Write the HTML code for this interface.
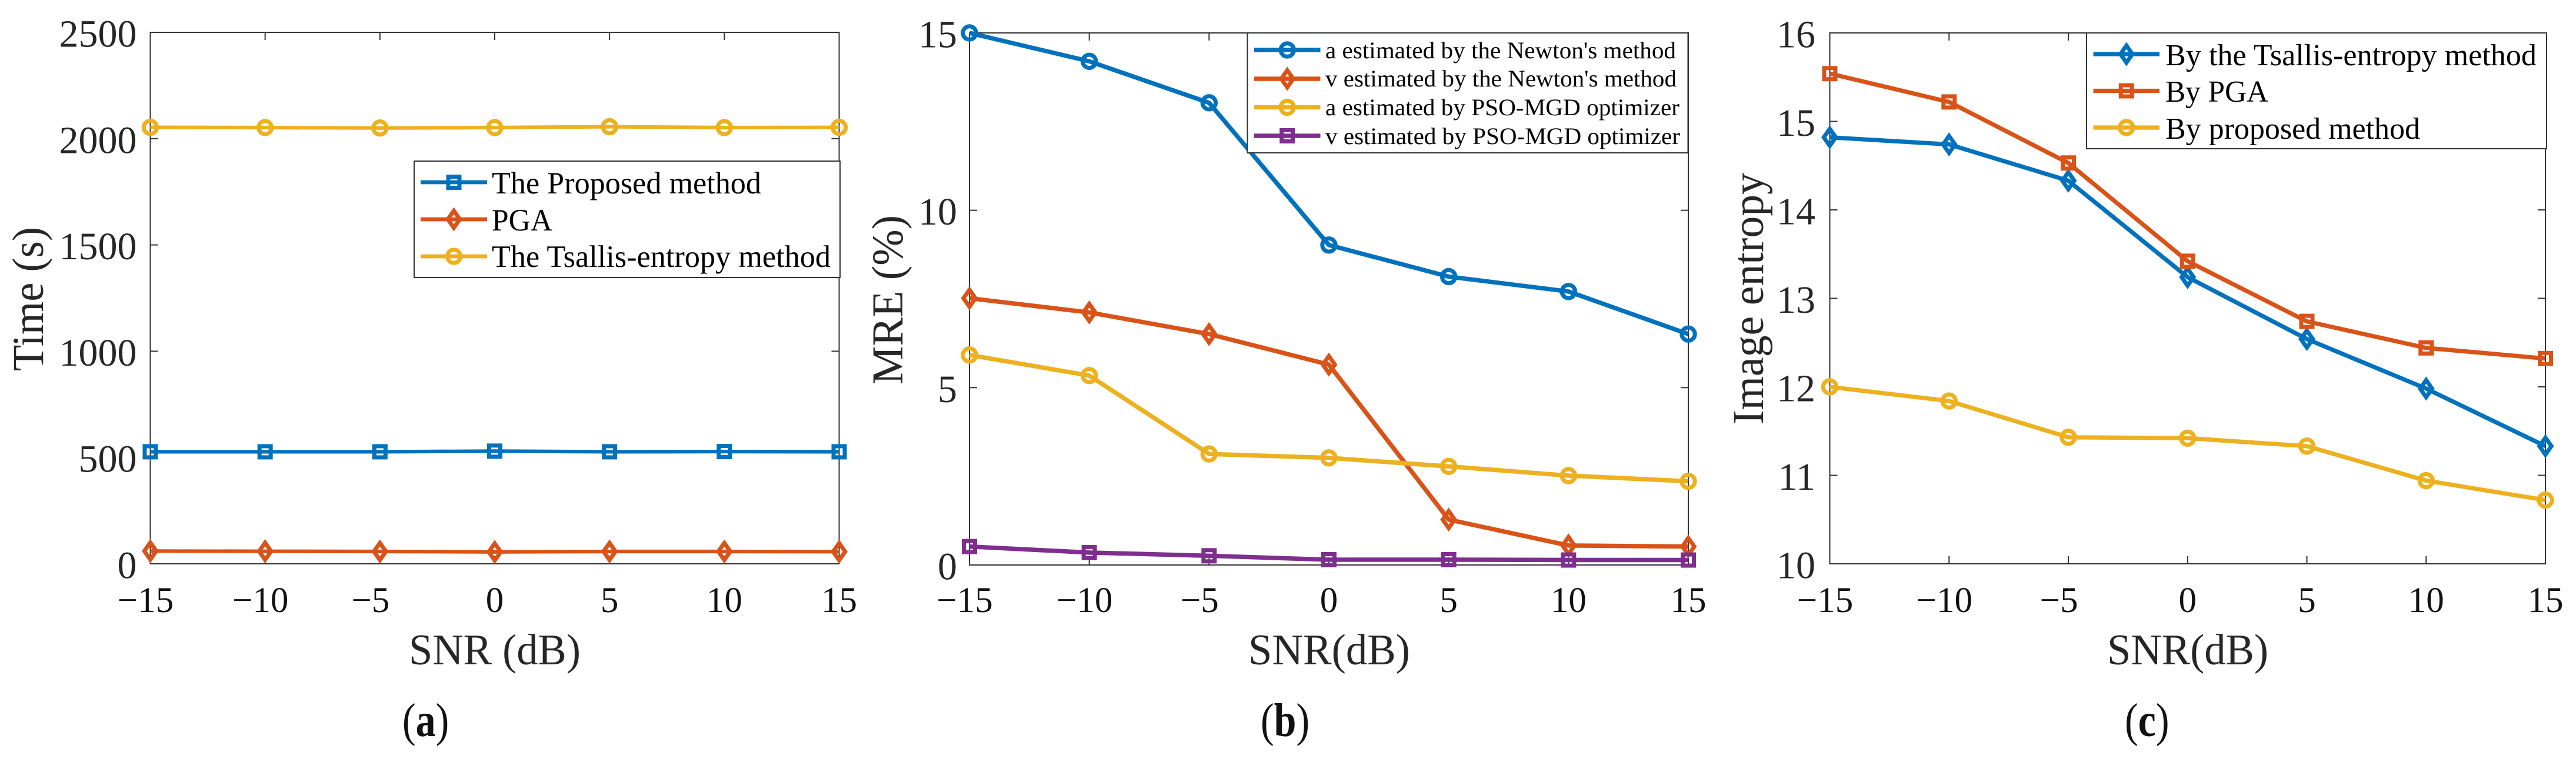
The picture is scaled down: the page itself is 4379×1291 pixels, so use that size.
<!DOCTYPE html>
<html lang="en">
<head>
<meta charset="utf-8">
<title>SNR comparison charts</title>
<style>
  html,body{margin:0;padding:0;background:#fff;width:4379px;height:1291px;overflow:hidden}
  svg{display:block}
  text{font-family:"Liberation Serif","Times New Roman",serif;fill:#262626}
  .legend-text{fill:#000}
  .caption{fill:#111}
</style>
</head>
<body>
<svg id="figure" xmlns="http://www.w3.org/2000/svg" width="4379" height="1291" viewBox="0 0 4379 1291">
  <rect x="0" y="0" width="4379" height="1291" fill="#fff"/>

  <g>
    <g id="axes-a"></g>
    <g id="series-a"></g>
    <g>
      <rect x="704" y="274" width="724" height="198" fill="#fff" stroke="#333" stroke-width="2"/>
      <g id="legend-samples-a"></g>
      <text class="legend-text" x="836" y="329" font-size="53" textLength="458" lengthAdjust="spacingAndGlyphs">The Proposed method</text>
      <text class="legend-text" x="836" y="392" font-size="53" textLength="103" lengthAdjust="spacingAndGlyphs">PGA</text>
      <text class="legend-text" x="836" y="454" font-size="53" textLength="576" lengthAdjust="spacingAndGlyphs">The Tsallis-entropy method</text>
    </g>
    <text transform="translate(73 631) rotate(-90)" x="0" y="0" font-size="75" textLength="245" lengthAdjust="spacingAndGlyphs">Time (s)</text>
    <text x="695" y="1130" font-size="74" textLength="292" lengthAdjust="spacingAndGlyphs">SNR (dB)</text>
    <text class="caption" transform="translate(684 1252) scale(0.85 1)" x="0" y="0" font-size="80">(<tspan font-weight="bold">a</tspan>)</text>
  </g>

  <g>
    <g id="axes-b"></g>
    <g id="series-b"></g>
    <g>
      <rect x="2120.5" y="56" width="749" height="204" fill="#fff" stroke="#333" stroke-width="2"/>
      <g id="legend-samples-b"></g>
      <text class="legend-text" x="2253" y="99" font-size="40" textLength="596" lengthAdjust="spacingAndGlyphs">a estimated by the Newton's method</text>
      <text class="legend-text" x="2253" y="147" font-size="40" textLength="597" lengthAdjust="spacingAndGlyphs">v estimated by the Newton's method</text>
      <text class="legend-text" x="2253" y="196" font-size="40" textLength="602" lengthAdjust="spacingAndGlyphs">a estimated by PSO-MGD optimizer</text>
      <text class="legend-text" x="2253" y="245" font-size="40" textLength="603" lengthAdjust="spacingAndGlyphs">v estimated by PSO-MGD optimizer</text>
    </g>
    <text transform="translate(1534 654) rotate(-90)" x="0" y="0" font-size="75" textLength="288" lengthAdjust="spacingAndGlyphs">MRE (%)</text>
    <text x="2122" y="1130" font-size="74" textLength="275" lengthAdjust="spacingAndGlyphs">SNR(dB)</text>
    <text class="caption" transform="translate(2143 1252) scale(0.85 1)" x="0" y="0" font-size="80">(<tspan font-weight="bold">b</tspan>)</text>
  </g>

  <g>
    <g id="axes-c"></g>
    <g id="series-c"></g>
    <g>
      <rect x="3547" y="56" width="782" height="197" fill="#fff" stroke="#333" stroke-width="2"/>
      <g id="legend-samples-c"></g>
      <text class="legend-text" x="3681" y="111" font-size="52" textLength="631" lengthAdjust="spacingAndGlyphs">By the Tsallis-entropy method</text>
      <text class="legend-text" x="3681" y="173" font-size="52" textLength="175" lengthAdjust="spacingAndGlyphs">By PGA</text>
      <text class="legend-text" x="3681" y="236" font-size="52" textLength="433" lengthAdjust="spacingAndGlyphs">By proposed method</text>
    </g>
    <text transform="translate(2997 722) rotate(-90)" x="0" y="0" font-size="75" textLength="428" lengthAdjust="spacingAndGlyphs">Image entropy</text>
    <text x="3582" y="1130" font-size="74" textLength="274" lengthAdjust="spacingAndGlyphs">SNR(dB)</text>
    <text class="caption" transform="translate(3612 1252) scale(0.85 1)" x="0" y="0" font-size="80">(<tspan font-weight="bold">c</tspan>)</text>
  </g>
</svg>

<script>
// ---- chart data ----
const snrValues = [-15, -10, -5, 0, 5, 10, 15];

const timeTicks = [0, 500, 1000, 1500, 2000, 2500];
const timeProposed = [527, 527, 527, 530, 527, 528, 527];
const timePGA = [60, 59, 58, 56, 58, 58, 57];
const timeTsallis = [2053, 2052, 2050, 2052, 2056, 2052, 2053];

const mreTicks = [0, 5, 10, 15];
const mreANewton = [15, 14.2, 13.03, 9.02, 8.13, 7.71, 6.51];
const mreVNewton = [7.52, 7.12, 6.51, 5.65, 1.28, 0.55, 0.52];
const mreAPso = [5.92, 5.34, 3.13, 3.02, 2.78, 2.52, 2.36];
const mreVPso = [0.52, 0.35, 0.26, 0.15, 0.15, 0.14, 0.14];

const entropyTicks = [10, 11, 12, 13, 14, 15, 16];
const entropyTsallis = [14.82, 14.74, 14.33, 13.24, 12.54, 11.98, 11.33];
const entropyPGA = [15.54, 15.22, 14.53, 13.42, 12.74, 12.44, 12.32];
const entropyProposed = [12.0, 11.84, 11.43, 11.42, 11.33, 10.94, 10.72];

// ---- styling and layout ----
const BLUE = '#0072BD', ORANGE = '#D95319', YELLOW = '#EDB120', PURPLE = '#7E2F8E';
const SVG_NS = 'http://www.w3.org/2000/svg';
const TICK_LEN = 13;
const AXIS_COLOR = '#333';

function shape(parent, tag, props) {
  const node = document.createElementNS(SVG_NS, tag);
  for (const k in props) node.setAttribute(k, props[k]);
  parent.appendChild(node);
  return node;
}

function drawMarker(parent, kind, x, y, color, label) {
  const common = {fill: 'none', stroke: color, 'stroke-width': 7};
  let node;
  if (kind === 'circle') {
    node = shape(parent, 'circle', Object.assign({cx: x, cy: y, r: 11.2}, common));
  } else if (kind === 'square') {
    node = shape(parent, 'rect', Object.assign({x: x - 9.5, y: y - 9.5, width: 19, height: 19}, common));
  } else {
    node = shape(parent, 'path', Object.assign({d: 'M' + x + ' ' + (y - 14.5) + 'L' + (x + 10.2) + ' ' + y + 'L' + x + ' ' + (y + 14.5) + 'L' + (x - 10.2) + ' ' + y + 'Z'}, common));
  }
  
  
}

function drawAxes(id, box, yMin, yMax, yTicks, yLabelX) {
  const g = document.getElementById('axes-' + id);
  const xPos = v => box.left + (v - snrValues[0]) / (snrValues[snrValues.length - 1] - snrValues[0]) * (box.right - box.left);
  const yPos = v => box.bottom - (v - yMin) / (yMax - yMin) * (box.bottom - box.top);

  const frame = shape(g, 'rect', {x: box.left, y: box.top, width: box.right - box.left, height: box.bottom - box.top, fill: 'none', stroke: AXIS_COLOR, 'stroke-width': 2});
  
  

  snrValues.forEach(v => {
    const x = xPos(v);
    const tb = shape(g, 'line', {x1: x, x2: x, y1: box.bottom, y2: box.bottom - TICK_LEN, stroke: AXIS_COLOR, 'stroke-width': 2});
    
    
    const tt = shape(g, 'line', {x1: x, x2: x, y1: box.top, y2: box.top + TICK_LEN, stroke: AXIS_COLOR, 'stroke-width': 2});
    
    
    const lbl = shape(g, 'text', {x: x + (v < 0 ? (v > -10 ? -16 : -8) : 0), y: 1041, 'font-size': 61, 'text-anchor': 'middle', style: 'fill:#111'});
    lbl.textContent = (v < 0 ? '\u2212' + Math.abs(v) : String(v));
    
    
  });

  yTicks.forEach(v => {
    const y = yPos(v);
    const tl = shape(g, 'line', {x1: box.left, x2: box.left + TICK_LEN, y1: y, y2: y, stroke: AXIS_COLOR, 'stroke-width': 2});
    
    
    const tr = shape(g, 'line', {x1: box.right, x2: box.right - TICK_LEN, y1: y, y2: y, stroke: AXIS_COLOR, 'stroke-width': 2});
    
    
    const lbl = shape(g, 'text', {x: yLabelX, y: y + 24.5, 'font-size': 66, 'text-anchor': 'end'});
    lbl.textContent = String(v);
    
    
  });

  return {xPos, yPos};
}

function drawSeries(id, scales, values, color, kind, label, width) {
  const g = document.getElementById('series-' + id);
  const points = values.map((v, i) => scales.xPos(snrValues[i]) + ',' + scales.yPos(v)).join(' ');
  const line = shape(g, 'polyline', {points: points, fill: 'none', stroke: color, 'stroke-width': width, 'stroke-linejoin': 'round'});
  
  
  values.forEach((v, i) => {
    drawMarker(g, kind, scales.xPos(snrValues[i]), scales.yPos(v), color, 'point-' + label);
  });
}

function drawSample(id, x1, x2, y, color, kind, label, width) {
  const g = document.getElementById('legend-samples-' + id);
  const line = shape(g, 'line', {x1: x1, x2: x2, y1: y, y2: y, stroke: color, 'stroke-width': width});
  
  
  drawMarker(g, kind, (x1 + x2) / 2, y, color, 'legend-marker-' + label);
}

// ---- panel a ----
const scalesA = drawAxes('a', {left: 255.5, right: 1426.5, top: 55, bottom: 959}, 0, 2500, timeTicks, 232.5);
drawSeries('a', scalesA, timeProposed, BLUE, 'square', 'proposed', 6.2);
drawSeries('a', scalesA, timePGA, ORANGE, 'diamond', 'pga', 6.2);
drawSeries('a', scalesA, timeTsallis, YELLOW, 'circle', 'tsallis', 6.2);
drawSample('a', 715, 828, 310, BLUE, 'square', 'proposed', 6.7);
drawSample('a', 715, 828, 373, ORANGE, 'diamond', 'pga', 6.7);
drawSample('a', 715, 828, 436, YELLOW, 'circle', 'tsallis', 6.7);

// ---- panel b ----
const scalesB = drawAxes('b', {left: 1648, right: 2870, top: 56, bottom: 961}, 0, 15, mreTicks, 1627);
drawSeries('b', scalesB, mreANewton, BLUE, 'circle', 'a-newton', 7.5);
drawSeries('b', scalesB, mreVNewton, ORANGE, 'diamond', 'v-newton', 7.5);
drawSeries('b', scalesB, mreAPso, YELLOW, 'circle', 'a-pso', 7.5);
drawSeries('b', scalesB, mreVPso, PURPLE, 'square', 'v-pso', 7.5);
drawSample('b', 2132, 2244.5, 85, BLUE, 'circle', 'a-newton', 7.5);
drawSample('b', 2132, 2244.5, 134, ORANGE, 'diamond', 'v-newton', 7.5);
drawSample('b', 2132, 2244.5, 182.5, YELLOW, 'circle', 'a-pso', 7.5);
drawSample('b', 2132, 2244.5, 231, PURPLE, 'square', 'v-pso', 7.5);

// ---- panel c ----
const scalesC = drawAxes('c', {left: 3110.5, right: 4327, top: 56, bottom: 959}, 10, 16, entropyTicks, 3086);
drawSeries('c', scalesC, entropyTsallis, BLUE, 'diamond', 'by-tsallis', 7.3);
drawSeries('c', scalesC, entropyPGA, ORANGE, 'square', 'by-pga', 7.3);
drawSeries('c', scalesC, entropyProposed, YELLOW, 'circle', 'by-proposed', 7.3);
drawSample('c', 3558.5, 3671, 92, BLUE, 'diamond', 'by-tsallis', 7.3);
drawSample('c', 3558.5, 3671, 154.5, ORANGE, 'square', 'by-pga', 7.3);
drawSample('c', 3558.5, 3671, 217, YELLOW, 'circle', 'by-proposed', 7.3);
</script>
</body>
</html>
